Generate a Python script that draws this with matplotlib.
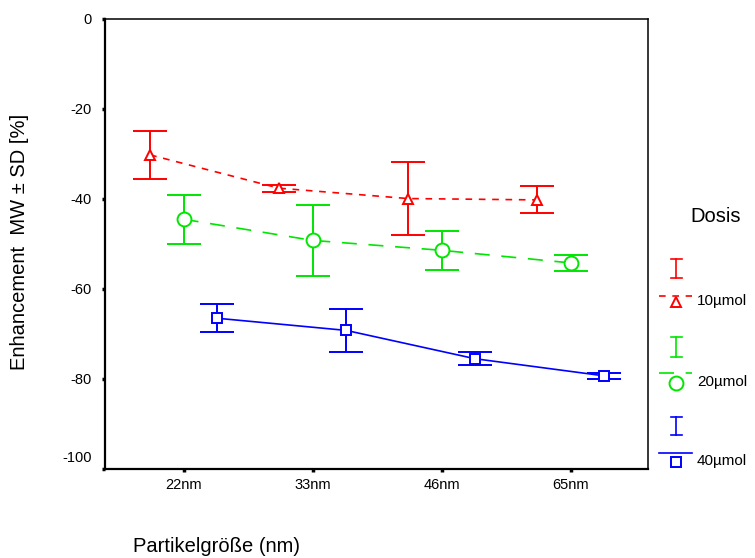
import numpy as np
import matplotlib
matplotlib.use("Agg")
import matplotlib.pyplot as plt
import matplotlib.transforms as mtransforms

plt.rcParams['font.family'] = ['Liberation Sans', 'DejaVu Sans']

# Mittelwerte und Standardabweichungen je Partikelgröße
groessen = ['22nm', '33nm', '46nm', '65nm']
dosis = ['10µmol', '20µmol', '40µmol']
mw_10 = [-30.2, -37.6, -39.9, -40.2]
sd_10 = [5.3, 0.8, 8.1, 3.0]
mw_20 = [-44.5, -49.2, -51.4, -54.2]
sd_20 = [5.4, 7.8, 4.3, 1.7]
mw_40 = [-66.5, -69.2, -75.5, -79.3]
sd_40 = [3.1, 4.7, 1.4, 0.6]

farben = ['#ff0000', '#00e600', '#0000ff']
marker = ['^', 'o', 's']
msize = [7, 10, 7]
linien = [(0, (4, 4)), (0, (9, 7)), '-']
versatz = [-0.26, 0.0, 0.26]

fig = plt.figure(figsize=(7.55, 5.58), dpi=100)
W, H = 755, 558
ax = fig.add_axes([105 / W, 1 - 469 / H, (648 - 105) / W, (469 - 19) / H])

x = np.arange(len(groessen))
for mw, sd, c, m, ms, ls, dx in zip([mw_10, mw_20, mw_40], [sd_10, sd_20, sd_40],
                                    farben, marker, msize, linien, versatz):
    xs = x + dx
    ax.plot(xs, mw, color=c, lw=1.2, linestyle=ls, zorder=2)
    ax.errorbar(xs, mw, yerr=sd, fmt='none', ecolor=c, elinewidth=1.4,
                capsize=12.5, capthick=1.4, zorder=3)
    ax.plot(xs, mw, linestyle='none', marker=m, ms=ms, mfc='white',
            mec=c, mew=1.4, zorder=4)

ax.set_xlim(-0.61, 3.6)
ax.set_ylim(-100, 0)
ax.set_xticks(x)
ax.set_xticklabels(groessen, fontsize=10.5)
ax.set_yticks(np.arange(-100, 1, 20))
ax.set_yticklabels([str(v) for v in range(-100, 1, 20)], fontsize=10.5)
ax.tick_params(axis='both', direction='out', length=2.5, width=2.5, pad=4)
ax.tick_params(axis='y', pad=7)
# unterste Beschriftung etwas nach oben gesetzt
unten = ax.get_yticklabels()[0]
unten.set_transform(unten.get_transform() +
                    mtransforms.ScaledTranslation(0, 12 / 100, fig.dpi_scale_trans))
for s in ['left', 'bottom']:
    ax.spines[s].set_linewidth(1.6)
for s in ['top', 'right']:
    ax.spines[s].set_linewidth(1.1)

fig.text(20 / W, 1 - 242 / H, 'Enhancement  MW ± SD [%]', rotation=90,
         ha='center', va='center', fontsize=14.5)
fig.text(133 / W, 1 - 546 / H, 'Partikelgröße (nm)', ha='left',
         va='center', fontsize=14.5)

# Legende rechts neben dem Diagramm
lg = fig.add_axes([0, 0, 1, 1], facecolor='none')
lg.set_xlim(0, W)
lg.set_ylim(H, 0)
lg.axis('off')
lg.text(716, 217, 'Dosis', ha='center', va='center', fontsize=14.5)
zeilen = [(259, 278, 296, 302), (337, 357, 373, 383), (417, 435, 453, 462)]
for (y0, y1, yl, ym), c, m, ms, ls, name in zip(zeilen, farben, marker,
                                                 msize, linien, dosis):
    lg.plot([676, 676], [y0, y1], color=c, lw=1.2)
    lg.plot([671, 682], [y0, y0], color=c, lw=1.2)
    lg.plot([671, 682], [y1, y1], color=c, lw=1.2)
    lg.plot([659, 692], [yl, yl], color=c, lw=1.2, linestyle=ls)
    lg.plot([676], [ym], marker=m, ms=ms, mfc='white', mec=c, mew=1.4)
    lg.text(697, ym - 1, name, ha='left', va='center', fontsize=11)

fig.savefig('out.png', dpi=100)
